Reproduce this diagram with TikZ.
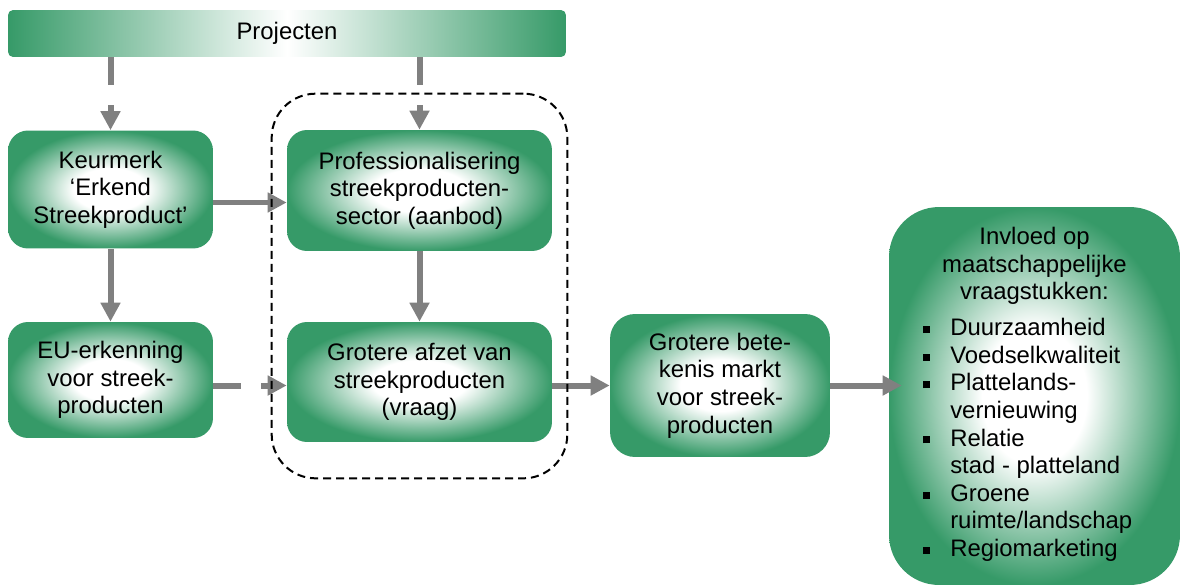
\documentclass[tikz,border=0pt]{standalone}
\usepackage{fontspec}
\setmainfont{Liberation Sans}
\usepackage{xcolor}
\usetikzlibrary{positioning,fit,arrows.meta}

\definecolor{boxgreen}{RGB}{54,154,104}
\definecolor{arrowgrey}{RGB}{128,128,128}
\pgfdeclareradialshading{boxglow}{\pgfpoint{0bp}{0bp}}{color(0bp)=(white); color(9bp)=(white); color(25bp)=(boxgreen); color(50bp)=(boxgreen)}
\newcommand{\sqbullet}{\makebox[0.55cm][l]{\raisebox{0.055cm}{\rule{0.14cm}{0.14cm}}}}

\begin{document}
\begin{tikzpicture}[x=0.02cm,y=-0.02cm,
  box/.style={shade,shading=boxglow,rounded corners=0.4cm,align=center,inner sep=0pt,
    font=\fontsize{13.6}{15.7}\selectfont},
  flow/.style={draw=arrowgrey,line width=0.12cm,-{Triangle[length=0.38cm,width=0.38cm]}},
  broken/.style={flow,dash pattern=on 0.56cm off 0.4cm on 2cm},
  cluster/.style={draw,line width=0.04cm,dash pattern=on 0.16cm off 0.1cm,rounded corners=0.88cm,
    inner xsep=0.3cm,inner ysep=0.72cm}]
\useasboundingbox (0,0) rectangle (1181,585);
% top bar
\node[box,left color=boxgreen,right color=boxgreen,middle color=white,rounded corners=0.1cm,
  minimum width=11.16cm,minimum height=0.94cm] (proj) at (287,33.5) {Projecten};
% left column
\node[box,minimum width=4.1cm,minimum height=2.36cm] (keur) at (110.5,189.5) {Keurmerk\\‘Erkend\\Streekproduct’};
\node[box,minimum width=4.1cm,minimum height=2.32cm] (eu) at (110.5,380) {EU-erkenning\\voor streek-\\producten};
% middle column
\node[box,minimum width=5.3cm,minimum height=2.42cm] (prof) at (419.5,190.5) {Professionalisering\\streekproducten-\\sector (aanbod)};
\node[box,minimum width=5.3cm,minimum height=2.4cm] (afzet) at (419.5,382) {Grotere afzet van\\streekproducten\\(vraag)};
% right
\node[box,rounded corners=0.5cm,minimum width=4.4cm,minimum height=2.86cm] (betek) at (720,385.5) {Grotere bete-\\kenis markt\\voor streek-\\producten};
\node[box,rounded corners=1cm,minimum width=5.82cm,minimum height=7.56cm] (impact) at (1034.5,396)
  {Invloed op\\maatschappelijke\\vraagstukken:\\[0.2cm]
   \hspace*{-0.28cm}\begin{tabular}{@{}l@{}l@{}}
   \sqbullet & Duurzaamheid\\
   \sqbullet & Voedselkwaliteit\\
   \sqbullet & Plattelands-\\
             & vernieuwing\\
   \sqbullet & Relatie\\
             & stad - platteland\\
   \sqbullet & Groene\\
             & ruimte/landschap\\
   \sqbullet & Regiomarketing
   \end{tabular}};

\draw[broken] (keur.north |- proj.south) -- (keur.north);
\draw[broken] (prof.north |- proj.south) -- (prof.north);
\draw[flow] ([yshift=-0.26cm]keur.east) -- ([yshift=-0.26cm]keur.east -| prof.west);
\draw[flow] (keur.south) -- (eu.north);
\draw[flow] (prof.south) -- (afzet.north);
\draw[broken] (eu.east |- betek) -- (afzet.west |- betek);
\draw[flow] (afzet.east |- betek) -- (betek.west);
\draw[flow,shorten >=-0.26cm] (betek.east) -- (impact.west |- betek);

\node[cluster,fit=(prof)(afzet)] (core) {};
\end{tikzpicture}
\end{document}
